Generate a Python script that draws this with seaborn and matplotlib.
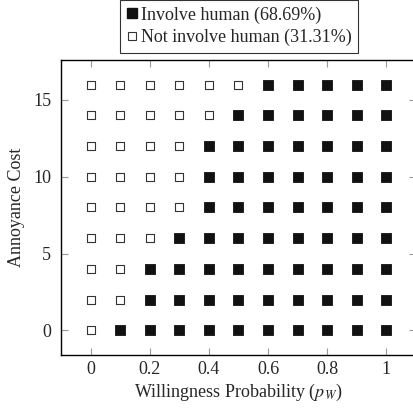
import numpy as np
import pandas as pd
import matplotlib
matplotlib.use("Agg")
import matplotlib.pyplot as plt
import seaborn as sns
from matplotlib.lines import Line2D

sns.set_style("ticks")
plt.rcParams['font.family'] = ['Liberation Serif', 'DejaVu Serif']
plt.rcParams['mathtext.fontset'] = 'stix'

# willingness probability grid and annoyance cost grid
willingness = [0.0, 0.1, 0.2, 0.3, 0.4, 0.5, 0.6, 0.7, 0.8, 0.9, 1.0]
annoyance = [0, 2, 4, 6, 8, 10, 12, 14, 16]
# smallest willingness that involves a human, per annoyance cost
threshold = [0.1, 0.2, 0.2, 0.3, 0.4, 0.4, 0.4, 0.5, 0.6]

rows = []
for cost, th in zip(annoyance, threshold):
    for p in willingness:
        rows.append({"p": p, "cost": cost, "involve": p >= th - 1e-9})
df = pd.DataFrame(rows)
share = df["involve"].mean() * 100

fig = plt.figure(figsize=(4.14, 4.08), dpi=100)
ax = fig.add_axes([61 / 414, 53 / 408, 355 / 414, 295 / 408])

sns.scatterplot(data=df[df["involve"]], x="p", y="cost", marker="s", s=45,
                color="#111111", edgecolor="#111111", linewidth=0.6, ax=ax)
sns.scatterplot(data=df[~df["involve"]], x="p", y="cost", marker="s", s=28,
                facecolor="white", edgecolor="#333333", linewidth=0.8, ax=ax)

ax.set_xlim(-0.1, 1.1)
ax.set_ylim(-1.6, 17.6)
ax.set_xticks([0, 0.2, 0.4, 0.6, 0.8, 1.0])
ax.set_xticklabels(["0", "0.2", "0.4", "0.6", "0.8", "1"])
ax.set_yticks([0, 5, 10, 15])
ax.tick_params(direction="in", length=5, width=0.8, color="#999999",
               top=True, right=True, labelsize=13)
ax.tick_params(axis="x", pad=4)
ax.tick_params(axis="y", pad=7)
for s in ax.spines.values():
    s.set_color("black")
    s.set_linewidth(1.0)
ax.set_xlabel("Willingness Probability ($p_W$)", fontsize=13, labelpad=3)
ax.set_ylabel("Annoyance Cost", fontsize=13, labelpad=6)

handles = [
    Line2D([], [], ls="none", marker="s", ms=6.5, mfc="#111111", mec="#111111"),
    Line2D([], [], ls="none", marker="s", ms=5.5, mfc="white", mec="#333333", mew=0.8),
]
labels = [f"Involve human ({share:.2f}%)", f"Not involve human ({100 - share:.2f}%)"]
leg = fig.legend(handles, labels, loc="upper center", bbox_to_anchor=(239 / 414, 1.0),
                 fontsize=13, frameon=True, fancybox=False, handlelength=0.6,
                 handletextpad=0.2, borderpad=0.35, labelspacing=0.3, borderaxespad=0)
leg.get_frame().set_edgecolor("black")
leg.get_frame().set_linewidth(0.8)

fig.savefig("out.png", dpi=100)
